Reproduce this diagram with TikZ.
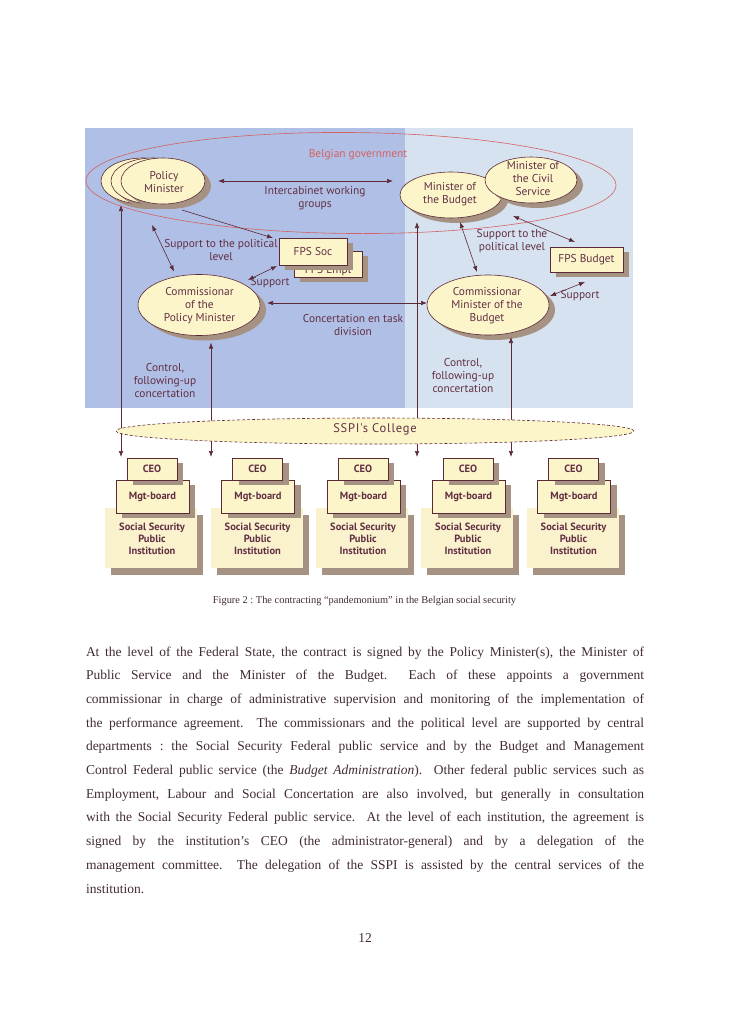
\documentclass[tikz,border=0pt]{standalone}
\usepackage{fontspec}
\setmainfont{Liberation Serif}
\newfontfamily\dgf{PT Sans}
\newfontfamily\dgfsp[LetterSpace=6]{PT Sans}
\usetikzlibrary{shapes.geometric,arrows.meta,shadows,calc}
\definecolor{leftblue}{RGB}{176,191,229}
\definecolor{rightblue}{RGB}{214,226,240}
\definecolor{cream}{RGB}{252,245,202}
\definecolor{creamb}{RGB}{249,242,205}
\definecolor{shc}{RGB}{165,146,130}
\definecolor{lc}{RGB}{92,42,54}
\definecolor{tc}{RGB}{98,48,68}
\definecolor{govred}{RGB}{212,98,98}
\definecolor{bodyc}{RGB}{66,44,50}
\begin{document}
\frenchspacing
\begin{tikzpicture}[x=1pt,y=-1pt,
  every node/.style={inner sep=0pt,outer sep=0pt},
  dtext/.style={font=\dgf\fontsize{11.4}{13}\selectfont,text=tc,align=center},
  btext/.style={font=\dgf\bfseries\fontsize{10.5}{12}\selectfont,text=tc,align=center},
  shad/.style={drop shadow={shadow xshift=6pt,shadow yshift=-5pt,fill=shc,opacity=1}},
  oval/.style={ellipse,draw=lc,line width=0.6pt,fill=cream,shad},
  rbox/.style={rectangle,draw=lc,line width=0.6pt,fill=cream,shad},
  ibox/.style={rectangle,fill=creamb,drop shadow={shadow xshift=6pt,shadow yshift=-7pt,fill=shc,opacity=1}},
  tipA/.tip={Latex[length=6pt,width=4.5pt]},
  dar/.style={draw=lc,line width=0.6pt,tipA-tipA},
  sar/.style={draw=lc,line width=0.6pt,-tipA},
  body/.style={font=\fontsize{13.5}{16}\selectfont,text=bodyc,anchor=base west}
]
\useasboundingbox (0,0) rectangle (728,1030);
\fill[white] (0,0) rectangle (728,1030);
% backgrounds
\fill[leftblue] (85,128) rectangle (405,408);
\fill[rightblue] (405,128) rectangle (633,408);
% government ellipse
\node[ellipse,draw=govred,line width=0.6pt,minimum width=530pt,minimum height=101pt,rotate=-0.5] (gov) at (351,183) {};
\node[dtext,text=govred] (govt) at (358,155) {Belgian government};
% policy minister stack
\node[oval,minimum width=84pt,minimum height=46pt] (pmC) at (143,181) {};
\node[oval,minimum width=84pt,minimum height=46pt] (pmB) at (153,181) {};
\node[oval,minimum width=84pt,minimum height=46pt] (pmA) at (163,181) {};
\node[dtext] (pmt) at (164,182) {Policy\\Minister};
% budget & civil service
\node[oval,minimum width=102pt,minimum height=46pt] (bud) at (451,195) {};
\node[dtext] (budt) at (450,194) {Minister of\\the Budget};
\node[oval,minimum width=92pt,minimum height=46pt] (civ) at (531,180) {};
\node[dtext] (civt) at (533,179) {Minister of\\the Civil\\Service};
% FPS boxes
\node[rbox,minimum width=68pt,minimum height=26pt] (empl) at (328,264) {};
\node[dtext,anchor=base] (emplt) at (328,273) {FPS Empl};
\node[rbox,minimum width=68pt,minimum height=27pt,dtext] (soc) at (313,251.5) {FPS Soc};
\node[rbox,minimum width=73pt,minimum height=25pt,dtext] (fpsb) at (586.5,259.5) {FPS Budget};
% commissionars
\node[oval,minimum width=122pt,minimum height=61pt] (cpm) at (199,305) {};
\node[dtext] (cpmt) at (199.5,306) {Commissionar\\of the\\Policy Minister};
\node[oval,minimum width=122pt,minimum height=60pt] (cbud) at (488,305) {};
\node[dtext] (cbudt) at (487,306) {Commissionar\\Minister of the\\Budget};
% labels
\node[dtext] (l1) at (315,198) {Intercabinet working\\groups};
\node[dtext] (l2) at (221,250) {Support to the political\\level};
\node[dtext] (l3) at (270,283) {Support};
\node[dtext] (l4) at (353,325) {Concertation en task\\division};
\node[dtext] (l5) at (165,381) {Control,\\following-up\\concertation};
\node[dtext] (l6) at (463,376) {Control,\\following-up\\concertation};
\node[dtext] (l7) at (512,241) {Support to the\\political level};
\node[dtext] (l8) at (580,296) {Support};
% connectors
\draw[dar,shorten <=13pt,shorten >=7pt] (pmA.east) -- (pmA.east -| bud.west);
\draw[sar] ($(pmA.south)+(19,6)$) -- ($(soc.north west)+(-6,0)$);
\draw[dar] ($(pmA.south)+(-11,21)$) -- ($(cpm.north)+(-25,-3)$);
\draw[dar] ($(cpm.center)+(49,-25)$) -- ($(soc.south west)+(-2,1)$);
\draw[dar,shorten <=7pt] ($(cpm.east)+(0,-2)$) -- ($(cbud.west)+(0,-2)$);
\draw[dar] ($(bud.south)+(9,4)$) -- ($(cbud.north)+(-11,-3)$);
\draw[dar] ($(civ.south)+(-18,13)$) -- ($(fpsb.north)+(-11.5,-5)$);
\draw[dar] ($(cbud.east)+(1,-9)$) -- ($(fpsb.south)+(-1.5,10)$);
\coordinate (d1) at (121,457);
\coordinate (d2) at (211,457);
\coordinate (d3) at (417,457);
\coordinate (d4) at (511,457);
\draw[dar] (d1) -- ($(d1 |- pmA.south)+(0,1)$);
\draw[dar] (d2) -- ($(d2 |- cpm.south)+(0,7)$);
\draw[dar] (d3) -- ($(d3 |- bud.south)+(0,4)$);
\draw[dar] (d4) -- ($(d4 |- cbud.south)+(0,2)$);
% SSPI college
\node[ellipse,draw=lc,dash pattern=on 3pt off 2pt,fill=cream,line width=0.6pt,minimum width=518pt,minimum height=26pt] (sspi) at (375,431) {};
\node[font=\dgfsp\fontsize{12.5}{14}\selectfont,text=tc] (sspit) at (375,429) {SSPI's College};
% institutions
\foreach \i/\cx in {1/152,2/257.5,3/363,4/468,5/573.5}{
  \node[ibox,minimum width=92pt,minimum height=60pt] (inst\i) at (\cx-1,538) {};
  \node[btext] (instt\i) at (\cx,539) {Social Security\\Public\\Institution};
  \node[rbox,minimum width=73pt,minimum height=33pt,btext] (mgt\i) at (\cx+0.5,496.5) {Mgt-board};
  \node[rbox,minimum width=50pt,minimum height=22pt,btext] (ceo\i) at (\cx,469) {CEO};
}
% caption
\node[font=\fontsize{10.4}{12}\selectfont,text=bodyc,anchor=base] (cap) at (364.5,603) {Figure 2 : The contracting “pandemonium” in the Belgian social security};
% body text
\node[body] (b1) at (86,656) {\makebox[558pt][s]{At the level of the Federal State, the contract is signed by the Policy Minister(s), the Minister of}};
\node[body] (b2) at (86,679.7) {\makebox[558pt][s]{Public Service and the Minister of the Budget.\ \ Each of these appoints a government}};
\node[body] (b3) at (86,703.4) {\makebox[558pt][s]{commissionar in charge of administrative supervision and monitoring of the implementation of}};
\node[body] (b4) at (86,727.1) {\makebox[558pt][s]{the performance agreement.\ \ The commissionars and the political level are supported by central}};
\node[body] (b5) at (86,750.8) {\makebox[558pt][s]{departments : the Social Security Federal public service and by the Budget and Management}};
\node[body] (b6) at (86,774.5) {\makebox[558pt][s]{Control Federal public service (the \textit{Budget Administration}).\ \ Other federal public services such as}};
\node[body] (b7) at (86,798.2) {\makebox[558pt][s]{Employment, Labour and Social Concertation are also involved, but generally in consultation}};
\node[body] (b8) at (86,821.9) {\makebox[558pt][s]{with the Social Security Federal public service.\ \ At the level of each institution, the agreement is}};
\node[body] (b9) at (86,845.6) {\makebox[558pt][s]{signed by the institution’s CEO (the administrator-general) and by a delegation of the}};
\node[body] (b10) at (86,869.3) {\makebox[558pt][s]{management committee.\ \ The delegation of the SSPI is assisted by the central services of the}};
\node[body] (b11) at (86,893) {institution.};
\node[font=\fontsize{13.5}{16}\selectfont,text=bodyc,anchor=base] (pg) at (365,942) {12};
\end{tikzpicture}
\end{document}
